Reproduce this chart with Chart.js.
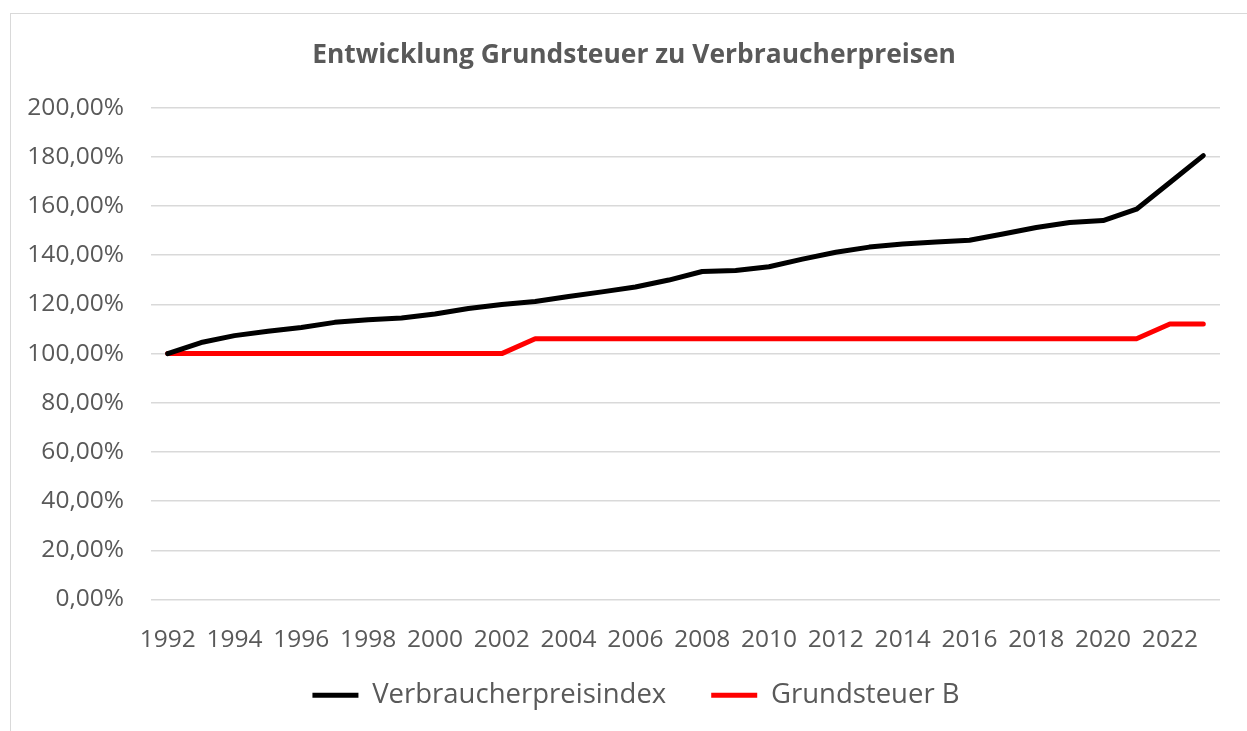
<!DOCTYPE html>
<html lang="de">
<head>
<meta charset="utf-8">
<title>Entwicklung Grundsteuer zu Verbraucherpreisen</title>
<script src="https://cdn.jsdelivr.net/npm/chart.js@4/dist/chart.umd.min.js"></script>
<style>
  html, body { margin: 0; padding: 0; background: #fff; overflow: hidden; }
  #frame {
    position: absolute; left: 10px; top: 13px; width: 1300px; height: 800px;
    border: 1px solid #d9d9d9; box-sizing: border-box;
  }
  #wrap { position: absolute; left: 0; top: 0; width: 1247px; height: 750px; }
</style>
</head>
<body>
<div id="frame"></div>
<div id="wrap"><canvas id="grundsteuerChart"></canvas></div>
<script>
/* globals Chart:false */

const years = [
  '1992', '1993', '1994', '1995', '1996', '1997', '1998', '1999',
  '2000', '2001', '2002', '2003', '2004', '2005', '2006', '2007',
  '2008', '2009', '2010', '2011', '2012', '2013', '2014', '2015',
  '2016', '2017', '2018', '2019', '2020', '2021', '2022', '2023'
]

// Verbraucherpreisindex, 1992 = 100 %
const verbraucherpreise = [
  100.0, 104.5, 107.3, 109.1, 110.6, 112.7, 113.8, 114.5,
  116.1, 118.3, 120.0, 121.2, 123.2, 125.1, 127.1, 129.9,
  133.4, 133.8, 135.3, 138.4, 141.2, 143.3, 144.6, 145.4,
  146.1, 148.6, 151.3, 153.3, 154.1, 158.7, 169.6, 180.5
]

// Grundsteuer B, 1992 = 100 %
const grundsteuerB = [
  100, 100, 100, 100, 100, 100, 100, 100,
  100, 100, 100, 106, 106, 106, 106, 106,
  106, 106, 106, 106, 106, 106, 106, 106,
  106, 106, 106, 106, 106, 106, 112, 112
]

const yMin = 0
const yMax = 200
const yStep = 20

;(() => {
  'use strict'

  const textColor = '#595959'
  const gridColor = '#d9d9d9'
  const fontFamily = '"Open Sans", "Noto Sans", sans-serif'

  // Excel centres title and legend on the whole chart frame, which is wider
  // than the visible window, so nudge those two boxes after layout
  const boxShift = {
    id: 'boxShift',
    afterLayout (chart) {
      chart.titleBlock.left += 24
      chart.titleBlock.right += 24
      chart.legend.left += 26
      chart.legend.right += 26
      chart.legend.top -= 23
      chart.legend.bottom -= 23
    }
  }

  const ctx = document.getElementById('grundsteuerChart')
  // eslint-disable-next-line no-unused-vars
  const myChart = new Chart(ctx, {
    type: 'line',
    data: {
      labels: years,
      datasets: [{
        label: 'Verbraucherpreisindex',
        data: verbraucherpreise,
        borderColor: '#000000',
        backgroundColor: '#000000',
        borderWidth: 5,
        borderCapStyle: 'round',
        borderJoinStyle: 'round',
        tension: 0,
        pointRadius: 0
      }, {
        label: 'Grundsteuer B',
        data: grundsteuerB,
        borderColor: '#ff0000',
        backgroundColor: '#ff0000',
        borderWidth: 5,
        borderCapStyle: 'round',
        borderJoinStyle: 'round',
        tension: 0,
        pointRadius: 0
      }]
    },
    options: {
      responsive: true,
      maintainAspectRatio: false,
      animation: false,
      layout: {
        padding: { left: 0, right: 27, top: 0, bottom: 8 }
      },
      scales: {
        x: {
          offset: true,
          grid: { display: false, drawTicks: false },
          border: { display: false },
          afterFit: (scale) => { scale.height = 60 },
          ticks: {
            color: textColor,
            font: { family: fontFamily, size: 24.5 },
            padding: 26,
            autoSkip: false,
            maxRotation: 0,
            callback: function (value, index) {
              return index % 2 === 0 ? this.getLabelForValue(value) : ''
            }
          }
        },
        y: {
          min: yMin,
          max: yMax,
          grid: { color: gridColor, lineWidth: 1.5, drawTicks: false },
          border: { display: false },
          afterFit: (scale) => { scale.width = 151 },
          ticks: {
            stepSize: yStep,
            color: textColor,
            font: { family: fontFamily, size: 24.5 },
            padding: 27,
            callback: (value) => value.toFixed(2).replace('.', ',') + '%'
          }
        }
      },
      plugins: {
        title: {
          display: true,
          text: 'Entwicklung Grundsteuer zu Verbraucherpreisen',
          color: textColor,
          font: { family: fontFamily, size: 26.4, weight: 'bold' },
          padding: { top: 40, bottom: 36 }
        },
        legend: {
          position: 'bottom',
          labels: {
            color: textColor,
            font: { family: fontFamily, size: 27.5 },
            usePointStyle: true,
            pointStyle: 'line',
            pointStyleWidth: 46,
            padding: 45
          }
        },
        tooltip: { enabled: false }
      }
    },
    plugins: [boxShift]
  })
})()
</script>
</body>
</html>
